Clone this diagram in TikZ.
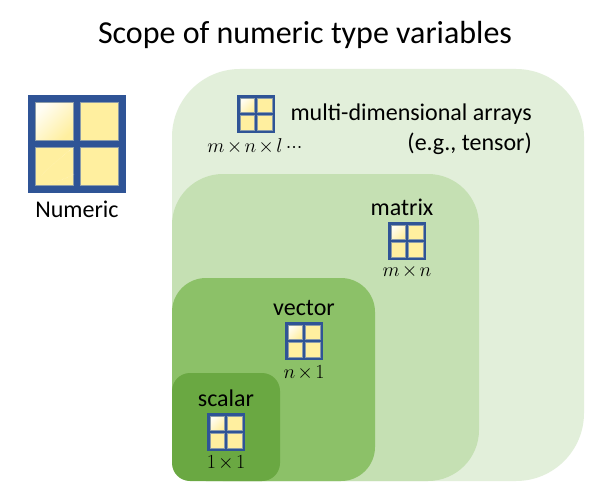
\documentclass[tikz,border=0pt]{standalone}
\usepackage{fix-cm}
\usepackage{fontspec}
\setmainfont{Carlito}
\usetikzlibrary{positioning}
\definecolor{outergreen}{HTML}{E2EFDA}
\definecolor{matrixgreen}{HTML}{C5E0B3}
\definecolor{vectorgreen}{HTML}{8CC168}
\definecolor{scalargreen}{HTML}{6AA842}
\definecolor{iconblue}{HTML}{2F5496}
\definecolor{paneyellow}{HTML}{FFEF9F}
\definecolor{panegrey}{HTML}{8C9CA8}

% one grid icon: name, centre, side length
\newcommand{\gridicon}[4]{
  \pgfmathsetmacro{\panesize}{.383*#4}
  \pgfmathsetmacro{\paneshift}{.2295*#4}
  \pgfmathsetmacro{\panerule}{.012*#4}
  \node (#1) [iconframe, minimum size=#4pt] at #2#3 {};
  \node (#1a) [pane, firstpane, minimum size=\panesize pt, line width=\panerule pt, xshift=-\paneshift pt, yshift=\paneshift pt] at (#1) {};
  \node (#1b) [pane, minimum size=\panesize pt, line width=\panerule pt, xshift=\paneshift pt, yshift=\paneshift pt] at (#1) {};
  \node (#1c) [pane, minimum size=\panesize pt, line width=\panerule pt, xshift=-\paneshift pt, yshift=-\paneshift pt] at (#1) {};
  \node (#1d) [pane, minimum size=\panesize pt, line width=\panerule pt, xshift=\paneshift pt, yshift=-\paneshift pt] at (#1) {};
}
\newcommand{\bytimes}{\mkern-2mu\times\mkern-2mu}

\begin{document}
\begin{tikzpicture}[x=1pt, y=-1pt, node distance=2pt]
    \tikzstyle{region} = [rectangle, anchor=south west, inner sep=0pt, outer sep=0pt]
    \tikzstyle{iconframe} = [rectangle, fill=iconblue, inner sep=0pt, outer sep=0pt]
    \tikzstyle{pane} = [rectangle, fill=paneyellow, draw=panegrey, inner sep=0pt, outer sep=0pt]
    \tikzstyle{firstpane} = [shade, left color=paneyellow!12!white, right color=paneyellow, shading angle=45]
    \tikzstyle{label} = [font=\fontsize{24}{28}\selectfont, inner sep=0pt]
    \tikzstyle{sizes} = [font=\fontsize{20}{24}\selectfont, inner sep=0pt]

    \useasboundingbox (0,0) rectangle (604,497);
    \fill [white] (0,0) rectangle (604,497);
    \coordinate (corner) at (172,481);

    \node (arrays) [region, fill=outergreen, rounded corners=68pt, minimum width=412pt, minimum height=412pt] at (corner) {};
    \node (matrixbox) [region, fill=matrixgreen, rounded corners=51pt, minimum width=307pt, minimum height=307pt] at (corner) {};
    \node (vectorbox) [region, fill=vectorgreen, rounded corners=34pt, minimum width=203pt, minimum height=203pt] at (corner) {};
    \node (scalarbox) [region, fill=scalargreen, rounded corners=18pt, minimum width=108pt, minimum height=108pt] at (corner) {};

    \node (title) [font=\fontsize{32}{38}\selectfont, inner sep=0pt] at (305,35) {Scope of numeric type variables};

    \gridicon{numeric}{(77,}{144)}{98}
    \node (numericlabel) [label] at (77,209) {Numeric};
    % faint marks on the big icon
    \draw [paneyellow!60!white, densely dotted] (numericc.south west) ++(6,-10) .. controls +(8,-10) and +(18,-14) .. +(27,-24);
    \draw [paneyellow!60!white, densely dotted] (numericc.south west) ++(13,-2) .. controls +(8,-1) and +(15,-3) .. +(21,-9);

    \gridicon{arraysicon}{(256,}{114)}{38}
    \node (arrayslabel) [label, anchor=east] at (532,114) {multi-dimensional arrays};
    \node (tensorlabel) [label, anchor=east] at (532,144) {(e.g., tensor)};
    \node (arrayssize) [sizes] at (255,146) {$m\bytimes n\bytimes l\,{\cdot}{\cdot}{\cdot}$};

    \gridicon{matrixicon}{(407,}{241)}{38}
    \node (matrixlabel) [label, above=6pt of matrixicon, xshift=-5pt] {matrix};
    \node (matrixsize) [sizes, below=5pt of matrixicon] {$m\bytimes n$};

    \gridicon{vectoricon}{(304,}{341)}{38}
    \node (vectorlabel) [label, above=6pt of vectoricon] {vector};
    \node (vectorsize) [sizes, below=5pt of vectoricon] {$n\bytimes 1$};

    \gridicon{scalaricon}{(226,}{432)}{38}
    \node (scalarlabel) [label, above=6pt of scalaricon] {scalar};
    \node (scalarsize) [sizes, below=4pt of scalaricon] {$1\bytimes 1$};
  \end{tikzpicture}
\end{document}
